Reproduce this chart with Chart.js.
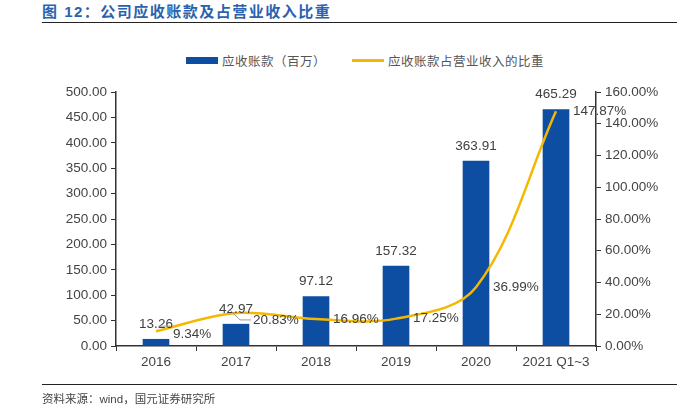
<!DOCTYPE html>
<html>
<head>
<meta charset="utf-8">
<script src="https://cdn.jsdelivr.net/npm/chart.js@4"></script>
<style>
  body { margin: 0; width: 677px; height: 408px; background: #fff; position: relative; overflow: hidden;
         font-family: "Liberation Sans", "Noto Sans CJK SC", sans-serif; }
  #title { position: absolute; left: 42px; top: 0px; font-size: 15px; font-weight: bold; color: #2a62b0;
           font-family: "Liberation Sans", "Noto Sans CJK SC", sans-serif; letter-spacing: 1.5px; }
  #topline { position: absolute; left: 42px; right: 0; top: 22px; border-top: 1.5px solid #222; }
  #botline { position: absolute; left: 42px; right: 0; top: 384px; border-top: 1.5px solid #222; }
  #source { position: absolute; left: 42px; top: 390px; font-size: 11.5px; color: #444; }
  #legend { position: absolute; top: 51px; left: 186px; font-size: 12.5px; color: #555; display: flex; align-items: center; letter-spacing: 0.5px; }
  #legend .sw { display: inline-block; margin-right: 4px; }
  #chartBox { position: absolute; left: 0; top: 0; width: 677px; height: 408px; }
</style>
</head>
<body>
<div id="title">图 12：公司应收账款及占营业收入比重</div>
<div id="topline"></div>
<div id="legend">
  <span class="sw" style="width:32px;height:7px;background:#0d4ea3;"></span><span>应收账款（百万）</span>
  <span class="sw" style="width:32px;height:3px;background:#f5b800;margin-left:26px;"></span><span>应收账款占营业收入的比重</span>
</div>
<div id="chartBox"><canvas id="c" width="677" height="408"></canvas></div>
<div id="botline"></div>
<div id="source">资料来源：wind，国元证券研究所</div>
<script>
const categories = ["2016", "2017", "2018", "2019", "2020", "2021 Q1~3"];
const receivables = [13.26, 42.97, 97.12, 157.32, 363.91, 465.29];
const ratio = [9.34, 20.83, 16.96, 17.25, 36.99, 147.87];
const leftTicks = [0, 50, 100, 150, 200, 250, 300, 350, 400, 450, 500];
const rightTicks = [0, 20, 40, 60, 80, 100, 120, 140, 160];

const labelPlugin = {
  id: "labels",
  afterDatasetsDraw(chart) {
    const ctx = chart.ctx;
    ctx.save();
    ctx.font = "13.5px 'Liberation Sans', sans-serif";
    ctx.fillStyle = "#404040";
    ctx.textAlign = "center";
    ctx.textBaseline = "middle";
    // bar values above the bars
    chart.getDatasetMeta(1).data.forEach((bar, i) => {
      ctx.fillText(receivables[i].toFixed(2), bar.x, bar.y - 15);
    });
    // percentages to the right of the line points
    ctx.textAlign = "left";
    const dy = [3, 7, 0, 0, 0, 0];
    chart.getDatasetMeta(0).data.forEach((pt, i) => {
      const lx = pt.x + 17, ly = pt.y + dy[i];
      if (i < 2) {
        ctx.strokeStyle = "#999";
        ctx.lineWidth = 1;
        ctx.beginPath();
        if (i === 0) {
          ctx.moveTo(pt.x + 2, pt.y - 5);
          ctx.lineTo(pt.x + 14, pt.y - 5);
        } else {
          ctx.moveTo(pt.x - 6, pt.y - 3);
          ctx.lineTo(pt.x + 4, ly);
          ctx.lineTo(lx - 2, ly);
        }
        ctx.stroke();
      }
      ctx.fillText(ratio[i].toFixed(2) + "%", lx, ly);
    });
    ctx.restore();
  }
};

const tickFont = { family: "'Liberation Sans', sans-serif", size: 13.5 };

new Chart(document.getElementById("c"), {
  data: {
    labels: categories,
    datasets: [
      {
        type: "line",
        data: ratio,
        yAxisID: "y1",
        borderColor: "#f5b800",
        borderWidth: 2.5,
        pointRadius: 0,
        tension: 0.35,
        order: 0
      },
      {
        type: "bar",
        data: receivables,
        yAxisID: "y",
        backgroundColor: "#0d4ea3",
        barThickness: 26,
        order: 1
      }
    ]
  },
  options: {
    responsive: false,
    animation: false,
    layout: { padding: { top: 92, left: 0, right: 0, bottom: 0 } },
    plugins: { legend: { display: false }, tooltip: { enabled: false } },
    scales: {
      x: {
        offset: true,
        grid: { offset: true, drawOnChartArea: false, tickLength: 5, color: "#333" },
        border: { color: "#333", width: 1.5 },
        ticks: { color: "#444", font: tickFont, padding: 3, maxRotation: 0 },
        afterFit(s) { s.height = 62; }
      },
      y: {
        position: "left",
        min: 0, max: 500,
        afterBuildTicks(s) { s.ticks = leftTicks.map(v => ({ value: v })); },
        grid: { drawOnChartArea: false, tickLength: 5, color: "#333" },
        border: { color: "#333", width: 1.5 },
        ticks: { color: "#444", font: tickFont, padding: 4, callback: v => v.toFixed(2) },
        afterFit(s) { s.width = 116; }
      },
      y1: {
        position: "right",
        min: 0, max: 160,
        afterBuildTicks(s) { s.ticks = rightTicks.map(v => ({ value: v })); },
        grid: { drawOnChartArea: false, tickLength: 5, color: "#333" },
        border: { color: "#333", width: 1.5 },
        ticks: { color: "#444", font: tickFont, padding: 4, callback: v => v.toFixed(2) + "%" },
        afterFit(s) { s.width = 81; }
      }
    }
  },
  plugins: [labelPlugin]
});
</script>
</body>
</html>
